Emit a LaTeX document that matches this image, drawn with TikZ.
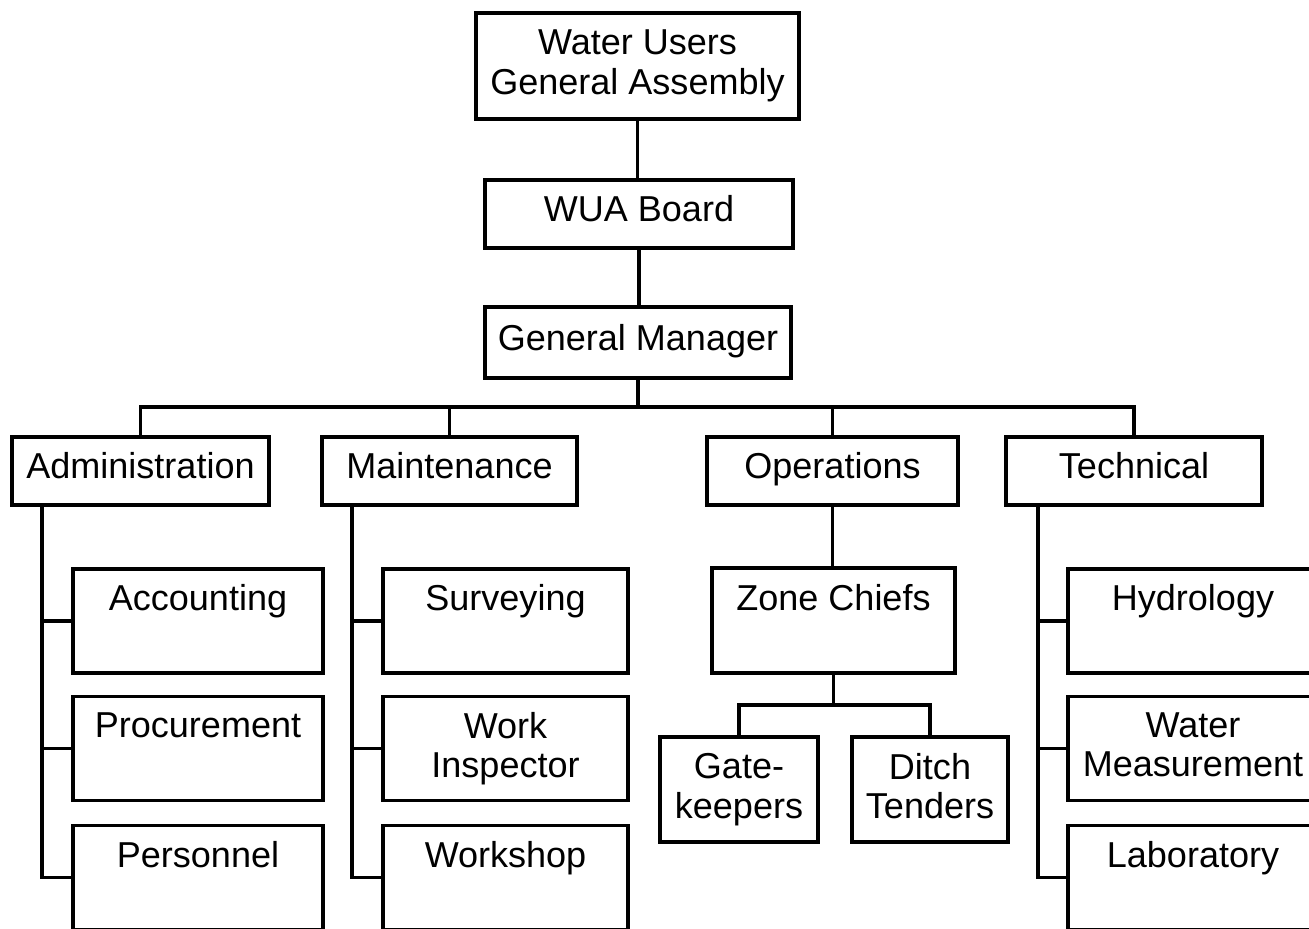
\documentclass[tikz,border=0pt]{standalone}
\usepackage{fontspec}
\setmainfont{Liberation Sans}
\usetikzlibrary{calc}
\newlength\pxu
\setlength\pxu{0.02cm}

\tikzset{
  orgbox/.style 2 args={draw, line width=2.1pt, minimum width=#1\pxu, minimum height=#2\pxu,
    inner sep=0pt, align=center, font=\fontsize{20.5}{22.4}\selectfont},
  oneline/.style={text height=14pt, text depth=5pt},
  link/.style={line width=2pt},
}

\begin{document}
\begin{tikzpicture}[x=0.02cm,y=-0.02cm]
\useasboundingbox (0,0) rectangle (1309,929);
\clip (0,0) rectangle (1309,929);

\coordinate (bus) at (638,407);
\coordinate (admsp) at (42,0);
\coordinate (mntsp) at (352,0);
\coordinate (tecsp) at (1038,0);

% top of the chart
\node[orgbox={323}{106}] (wuga) at (637.5,66) {Water Users\\General Assembly};
\node[orgbox={308}{68},oneline] (board) at (639,214) {WUA Board};
\node[orgbox={306}{71},oneline] (gm) at (638,342.5) {General Manager};

\draw[link] (wuga.south) -- (wuga.south |- board.north);
\draw[link] (board.south) -- (board.south |- gm.north);

% departments
\node[orgbox={257}{68},oneline] (adm) at (140.5,471) {Administration};
\node[orgbox={255}{68},oneline] (mnt) at (449.5,471) {Maintenance};
\node[orgbox={251}{68},oneline] (ops) at (832.5,471) {Operations};
\node[orgbox={256}{68},oneline] (tec) at (1134,471) {Technical};

\draw[link] (gm.south) -- (gm.south |- bus);
\draw[link] (adm.north) |- (bus) -| (tec.north);
\draw[link] (mnt.north) -- (mnt.north |- bus);
\draw[link] (ops.north) -- (ops.north |- bus);

% administration
\node[orgbox={250}{104}] (acc) at (198,621) {Accounting\\\phantom{g}};
\node[orgbox={250}{104}] (pro) at (198,748.5) {Procurement\\\phantom{g}};
\node[orgbox={250}{104}] (per) at (198,877.5) {Personnel\\\phantom{g}};

\draw[link] (adm.south -| admsp) |- (per.west);
\draw[link] (acc.west) -- (acc.west -| admsp);
\draw[link] (pro.west) -- (pro.west -| admsp);

% maintenance
\node[orgbox={245}{104}] (sur) at (505.5,621) {Surveying\\\phantom{g}};
\node[orgbox={245}{104}] (wins) at (505.5,748.5) {Work\\Inspector};
\node[orgbox={245}{104}] (wsh) at (505.5,877.5) {Workshop\\\phantom{g}};

\draw[link] (mnt.south -| mntsp) |- (wsh.west);
\draw[link] (sur.west) -- (sur.west -| mntsp);
\draw[link] (wins.west) -- (wins.west -| mntsp);

% operations
\node[orgbox={243}{105}] (zone) at (833.5,620.5) {Zone Chiefs\\\phantom{g}};
\node[orgbox={158}{105}] (gate) at (739,789.5) {Gate-\\keepers};
\node[orgbox={156}{105}] (ditch) at (930,789.5) {Ditch\\Tenders\vphantom{p}};
\coordinate (fork) at ($(zone.south)+(0,30)$);

\draw[link] (ops.south) -- (ops.south |- zone.north);
\draw[link] (zone.south) -- (fork);
\draw[link] (gate.north) |- (fork) -| (ditch.north);

% technical
\node[orgbox={250}{104}] (hyd) at (1193,621) {Hydrology\\\phantom{g}};
\node[orgbox={250}{104}] (wmeas) at (1193,748.5) {Water\\Measurement\vphantom{p}};
\node[orgbox={250}{104}] (lab) at (1193,877.5) {Laboratory\\\phantom{g}};

\draw[link] (tec.south -| tecsp) |- (lab.west);
\draw[link] (hyd.west) -- (hyd.west -| tecsp);
\draw[link] (wmeas.west) -- (wmeas.west -| tecsp);

\end{tikzpicture}
\end{document}
